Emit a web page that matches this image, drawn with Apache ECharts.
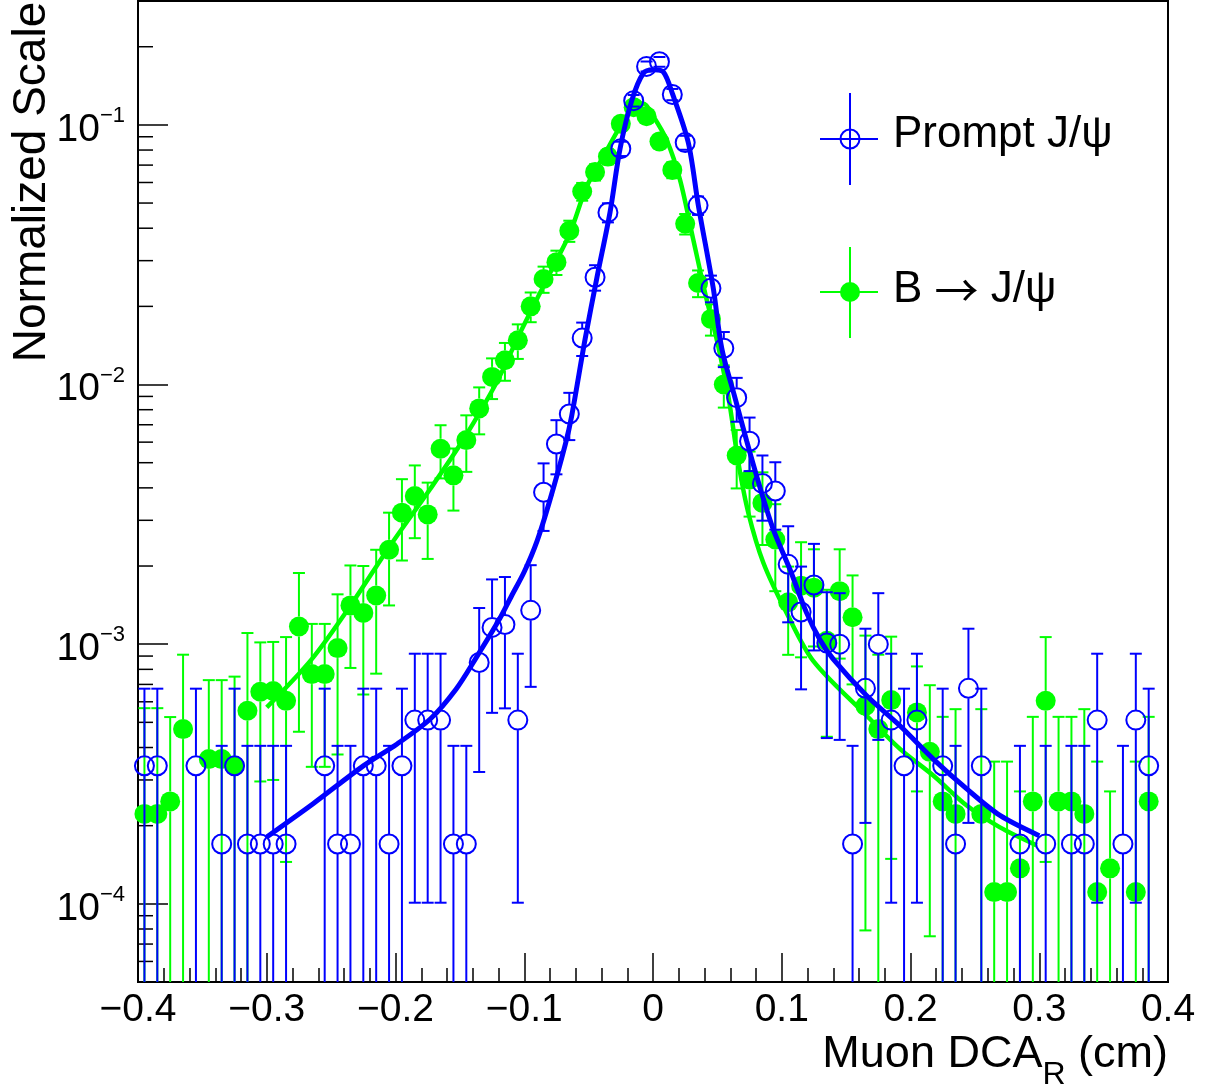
<!DOCTYPE html>
<html><head><meta charset="utf-8">
<script src="https://cdn.jsdelivr.net/npm/echarts@6/dist/echarts.min.js"></script>
<style>html,body{margin:0;padding:0;background:#fff}#c{width:1206px;height:1091px}</style>
</head><body><div id="c"></div>
<script>
// ---------------- data ----------------
const X_MIN = -0.4, X_MAX = 0.4;
const Y_MIN = 5e-5, Y_MAX = 0.3;

// Prompt J/psi histogram (bin centres, contents, errors)
const promptX = [-0.395,-0.385,-0.355,-0.335,-0.325,-0.315,-0.305,-0.295,-0.285,
  -0.255,-0.245,-0.235,-0.225,-0.215,-0.205,-0.195,-0.185,-0.175,-0.165,-0.155,-0.145,-0.135,-0.125,-0.115,-0.105,-0.095,
  -0.085,-0.075,-0.065,-0.055,-0.045,-0.035,-0.025,-0.015,-0.005,0.005,0.015,0.025,0.035,0.045,0.055,0.065,0.075,0.085,0.095,0.105,
  0.115,0.125,0.135,0.145,0.155,0.165,0.175,0.185,0.195,0.205,
  0.225,0.235,0.245,0.255,
  0.285,0.305,0.325,0.335,0.345,0.365,0.375,0.385];
const promptY = [3.4e-4,3.4e-4,3.4e-4,1.7e-4,3.4e-4,1.7e-4,1.7e-4,1.7e-4,1.7e-4,
  3.4e-4,1.7e-4,1.7e-4,3.4e-4,3.4e-4,1.7e-4,3.4e-4,5.1e-4,5.1e-4,5.1e-4,1.7e-4,1.7e-4,8.5e-4,1.16e-3,1.19e-3,5.1e-4,1.35e-3,
  3.85e-3,5.9e-3,7.7e-3,1.51e-2,2.59e-2,4.6e-2,8.1e-2,0.124,0.168,0.175,0.131,8.55e-2,4.9e-2,2.35e-2,1.38e-2,8.9e-3,6.05e-3,4.16e-3,3.89e-3,2.03e-3,
  1.33e-3,1.69e-3,1.01e-3,1.0e-3,1.7e-4,6.76e-4,1.0e-3,5.1e-4,3.4e-4,5.1e-4,
  3.4e-4,1.7e-4,6.76e-4,3.4e-4,
  1.7e-4,1.7e-4,1.7e-4,1.7e-4,5.1e-4,1.7e-4,5.1e-4,3.4e-4];
const promptErr = [3.34e-4,3.34e-4,3.34e-4,2.36e-4,3.34e-4,2.36e-4,2.36e-4,2.36e-4,2.36e-4,
  3.34e-4,2.36e-4,2.36e-4,3.34e-4,3.34e-4,2.36e-4,3.34e-4,4.09e-4,4.09e-4,4.09e-4,2.36e-4,2.36e-4,5.28e-4,6.16e-4,6.24e-4,4.09e-4,6.65e-4,
  1.12e-3,1.39e-3,1.59e-3,2.22e-3,2.91e-3,3.88e-3,5.15e-3,6.37e-3,7.42e-3,7.57e-3,6.55e-3,5.29e-3,4.0e-3,2.77e-3,2.13e-3,1.71e-3,1.41e-3,1.17e-3,1.13e-3,8.16e-4,
  6.6e-4,7.44e-4,5.75e-4,5.72e-4,2.36e-4,4.71e-4,5.72e-4,4.09e-4,3.34e-4,4.09e-4,
  3.34e-4,2.36e-4,4.71e-4,3.34e-4,
  2.36e-4,2.36e-4,2.36e-4,2.36e-4,4.09e-4,2.36e-4,4.09e-4,3.34e-4];

// B -> J/psi histogram
const bjpsiX = [-0.395,-0.385,-0.375,-0.365,-0.345,-0.335,-0.325,-0.315,-0.305,-0.295,-0.285,-0.275,-0.265,-0.255,-0.245,-0.235,-0.225,-0.215,-0.205,-0.195,-0.185,-0.175,-0.165,-0.155,-0.145,
  -0.135,-0.125,-0.115,-0.105,-0.095,-0.085,-0.075,-0.065,-0.055,-0.045,-0.035,-0.025,-0.015,-0.005,0.005,0.015,0.025,0.035,0.045,0.055,0.065,0.075,0.085,0.095,0.105,0.115,0.125,0.135,0.145,0.155,0.165,0.175,0.185,
  0.205,0.215,0.225,0.235,0.255,0.265,0.275,0.285,0.295,0.305,0.315,0.325,0.335,0.345,0.355,0.375,0.385];
const bjpsiY = [2.22e-4,2.22e-4,2.48e-4,4.71e-4,3.61e-4,3.61e-4,3.4e-4,5.54e-4,6.56e-4,6.6e-4,6.05e-4,1.17e-3,7.67e-4,7.67e-4,9.66e-4,1.41e-3,1.32e-3,1.54e-3,2.31e-3,3.21e-3,3.72e-3,3.16e-3,5.66e-3,4.47e-3,6.11e-3,
  8.09e-3,1.07e-2,1.24e-2,1.48e-2,2.0e-2,2.55e-2,2.96e-2,3.91e-2,5.54e-2,6.58e-2,7.55e-2,0.1009,0.117,0.108,8.63e-2,6.71e-2,4.16e-2,2.46e-2,1.79e-2,1.0e-2,5.33e-3,4.31e-3,3.5e-3,2.53e-3,1.45e-3,1.68e-3,1.65e-3,1.03e-3,1.60e-3,1.27e-3,5.79e-4,4.71e-4,6.09e-4,
  5.46e-4,3.85e-4,2.48e-4,2.22e-4,2.22e-4,1.11e-4,1.11e-4,1.37e-4,2.48e-4,6.05e-4,2.48e-4,2.48e-4,2.22e-4,1.11e-4,1.37e-4,1.11e-4,2.48e-4];
const bjpsiErr = [3.45e-4,3.45e-4,2.76e-4,4.4e-4,3.66e-4,3.66e-4,4.1e-4,5.5e-4,3.6e-4,3.6e-4,4.6e-4,7.1e-4,4.3e-4,4.3e-4,5.9e-4,6.0e-4,6.8e-4,7.7e-4,9.0e-4,1.11e-3,1.16e-3,1.03e-3,1.31e-3,1.2e-3,1.5e-3,
  1.66e-3,1.91e-3,2.06e-3,2.25e-3,2.62e-3,2.95e-3,3.18e-3,3.66e-3,4.35e-3,4.75e-3,5.08e-3,5.88e-3,6.33e-3,6.08e-3,5.43e-3,4.79e-3,3.77e-3,2.9e-3,2.47e-3,1.85e-3,1.35e-3,1.21e-3,1.09e-3,9.3e-4,5.4e-4,7.9e-4,6.7e-4,5.9e-4,7.2e-4,5.7e-4,5.0e-4,4.4e-4,4.6e-4,
  2.75e-4,3.1e-4,2.77e-4,3.4e-4,3.4e-4,2.42e-4,2.42e-4,1.34e-4,2.77e-4,4.6e-4,2.77e-4,2.77e-4,3.4e-4,2.42e-4,1.34e-4,2.42e-4,2.77e-4];

// fitted curves
const promptFitX = [-0.300,-0.264,-0.225,-0.199,-0.173,-0.153,-0.138,-0.120,-0.110,-0.100,-0.090,-0.080,-0.068,-0.0632,-0.0528,-0.0435,-0.0334,-0.0256,-0.0165,-0.0075,0.0002,0.008,0.0153,0.0274,0.0352,0.0468,0.0534,0.0637,0.0728,0.0835,0.0934,0.1064,0.1193,0.1297,0.140,0.166,0.1918,0.2177,0.2437,0.2695,0.300];
const promptFitY = [1.81e-4,2.43e-4,3.4e-4,4.12e-4,5.15e-4,6.71e-4,8.76e-4,1.23e-3,1.53e-3,1.9e-3,2.5e-3,3.6e-3,5.91e-3,7.55e-3,1.49e-2,2.59e-2,4.6e-2,8.09e-2,0.124,0.158,0.163,0.160,0.131,8.55e-2,4.9e-2,2.35e-2,1.38e-2,8.89e-3,6.05e-3,3.95e-3,2.77e-3,1.94e-3,1.32e-3,1.04e-3,8.76e-4,6.33e-4,4.85e-4,3.61e-4,2.77e-4,2.19e-4,1.83e-4];
const bjpsiFitX = [-0.300,-0.265,-0.2353,-0.2043,-0.1732,-0.1473,-0.1214,-0.1033,-0.0774,-0.0645,-0.0515,-0.0386,-0.0256,-0.0153,-0.0075,0.0002,0.0106,0.021,0.0313,0.0417,0.0495,0.0585,0.0663,0.074,0.0857,0.1038,0.1246,0.166,0.1918,0.2177,0.2437,0.2695,0.298];
const bjpsiFitY = [5.71e-4,8.76e-4,1.40e-3,2.39e-3,3.95e-3,6.14e-3,1.02e-2,1.58e-2,2.85e-2,3.83e-2,5.79e-2,7.55e-2,9.85e-2,0.117,0.121,0.108,8.75e-2,6.14e-2,3.61e-2,2.12e-2,1.49e-2,9.02e-3,5.0e-3,3.21e-3,2.06e-3,1.32e-3,8.6e-4,5.3e-4,3.95e-4,3.12e-4,2.39e-4,1.97e-4,1.68e-4];

// axis decorations
const yMinorTicks = [6e-5,7e-5,8e-5,9e-5,2e-4,3e-4,4e-4,5e-4,6e-4,7e-4,8e-4,9e-4,2e-3,3e-3,4e-3,5e-3,6e-3,7e-3,8e-3,9e-3,2e-2,3e-2,4e-2,5e-2,6e-2,7e-2,8e-2,9e-2,0.2,0.3];

// ---------------- styling ----------------
const FONT = '"Liberation Sans", Arial, Helvetica, sans-serif';
const BLUE = '#0000ff', GREEN = '#00ff00';

function zip3(a, b, c) { return a.map((v, i) => c ? [v, b[i], c[i]] : [v, b[i]]); }

function errorBarRenderer(color, radius) {
  return function (params, api) {
    const x = api.value(0), v = api.value(1), e = api.value(2);
    const cs = params.coordSys;
    const bottom = cs.y + cs.height;
    const c = api.coord([x, v]);
    const hi = api.coord([x, v + e]);
    const hasLow = (v - e) > Y_MIN;
    const lo = hasLow ? api.coord([x, v - e]) : [c[0], bottom];
    const st = { stroke: color, lineWidth: 2 };
    const ch = [];
    if (hi[1] < c[1] - radius) ch.push({ type: 'line', shape: { x1: c[0], y1: hi[1], x2: c[0], y2: c[1] - radius }, style: st });
    if (lo[1] > c[1] + radius) ch.push({ type: 'line', shape: { x1: c[0], y1: c[1] + radius, x2: c[0], y2: lo[1] }, style: st });
    ch.push({ type: 'line', shape: { x1: c[0] - 6, y1: hi[1], x2: c[0] + 6, y2: hi[1] }, style: st });
    if (hasLow) ch.push({ type: 'line', shape: { x1: c[0] - 6, y1: lo[1], x2: c[0] + 6, y2: lo[1] }, style: st });
    return { type: 'group', children: ch };
  };
}

const chart = echarts.init(document.getElementById('c'), null, { renderer: 'canvas' });

const option = {
  animation: false,
  backgroundColor: '#fff',
  grid: { left: 138, right: 38, top: 1, bottom: 109, show: true, borderColor: '#000', borderWidth: 2, backgroundColor: 'transparent', containLabel: false },
  xAxis: {
    type: 'value', min: X_MIN, max: X_MAX, interval: 0.1,
    axisLine: { show: true, onZero: false, lineStyle: { color: '#000', width: 2 } },
    axisTick: { show: true, inside: true, length: 29, lineStyle: { color: '#000', width: 1.5 } },
    minorTick: { show: true, splitNumber: 5, length: 14, lineStyle: { color: '#000', width: 1.5 } },
    splitLine: { show: false }, minorSplitLine: { show: false },
    axisLabel: {
      margin: 9, fontSize: 39, fontFamily: FONT, color: '#000',
      formatter: v => Math.abs(v) < 1e-9 ? '0' : (v < 0 ? '\u2212' : '') + Math.abs(v).toFixed(1)
    }
  },
  yAxis: {
    type: 'log', logBase: 10, min: Y_MIN, max: Y_MAX,
    axisLine: { show: true, onZero: false, lineStyle: { color: '#000', width: 2 } },
    axisTick: { show: true, inside: true, length: 30, lineStyle: { color: '#000', width: 1.5 } },
    splitLine: { show: false },
    axisLabel: {
      margin: 13, color: '#000', fontFamily: FONT, padding: [10, 0, 0, 0],
      formatter: function (v) {
        const l = Math.log10(v), r = Math.round(l);
        if (Math.abs(l - r) > 1e-6) return '';
        return '{b|10}{s|' + (r < 0 ? '\u2212' : '') + Math.abs(r) + '}';
      },
      rich: {
        b: { fontSize: 39, fontFamily: FONT, color: '#000', lineHeight: 39 },
        s: { fontSize: 22, fontFamily: FONT, color: '#000', lineHeight: 22, padding: [0, 0, 28, 0] }
      }
    }
  },
  series: [
    { // y minor ticks
      type: 'custom', silent: true, z: 5,
      data: yMinorTicks.map(v => [X_MIN, v]),
      encode: { x: 0, y: 1 },
      renderItem: function (params, api) {
        const p = api.coord([api.value(0), api.value(1)]);
        return { type: 'line', shape: { x1: p[0], y1: p[1], x2: p[0] + 15, y2: p[1] }, style: { stroke: '#000', lineWidth: 1.5 } };
      }
    },
    { // B->J/psi error bars
      type: 'custom', silent: true, z: 2,
      data: zip3(bjpsiX, bjpsiY, bjpsiErr), encode: { x: 0, y: 1 },
      renderItem: errorBarRenderer(GREEN, 10)
    },
    {
      name: 'B \u2192 J/\u03c8', type: 'scatter', z: 3, silent: true,
      data: zip3(bjpsiX, bjpsiY), symbol: 'circle', symbolSize: 20,
      itemStyle: { color: GREEN, opacity: 1 }
    },
    {
      type: 'line', z: 4, silent: true, smooth: 0.3, showSymbol: false,
      data: zip3(bjpsiFitX, bjpsiFitY),
      lineStyle: { color: GREEN, width: 4.5 }
    },
    { // prompt error bars
      type: 'custom', silent: true, z: 6,
      data: zip3(promptX, promptY, promptErr), encode: { x: 0, y: 1 },
      renderItem: errorBarRenderer(BLUE, 10)
    },
    {
      name: 'Prompt J/\u03c8', type: 'scatter', z: 7, silent: true,
      data: zip3(promptX, promptY), symbol: 'circle', symbolSize: 19,
      itemStyle: { color: 'rgba(255,255,255,0)', borderColor: BLUE, borderWidth: 2, opacity: 1 }
    },
    {
      type: 'line', z: 8, silent: true, smooth: 0.3, showSymbol: false,
      data: zip3(promptFitX, promptFitY),
      lineStyle: { color: BLUE, width: 5 }
    }
  ],
  graphic: [
    // legend
    { type: 'line', shape: { x1: 820, y1: 139, x2: 878, y2: 139 }, style: { stroke: BLUE, lineWidth: 2 } },
    { type: 'line', shape: { x1: 850, y1: 93, x2: 850, y2: 185 }, style: { stroke: BLUE, lineWidth: 2 } },
    { type: 'circle', shape: { cx: 850, cy: 139, r: 9.5 }, style: { fill: 'rgba(0,0,0,0)', stroke: BLUE, lineWidth: 2 } },
    { type: 'text', x: 893, y: 135, style: { text: 'Prompt J/\u03c8', fontSize: 44, fontFamily: FONT, fill: '#000', align: 'left', verticalAlign: 'middle' } },
    { type: 'line', shape: { x1: 820, y1: 292, x2: 878, y2: 292 }, style: { stroke: GREEN, lineWidth: 2 } },
    { type: 'line', shape: { x1: 850, y1: 247, x2: 850, y2: 338 }, style: { stroke: GREEN, lineWidth: 2 } },
    { type: 'circle', shape: { cx: 850, cy: 292, r: 10 }, style: { fill: GREEN } },
    { type: 'text', x: 893, y: 290, style: {
        text: '{t|B }{ar|\u2192}{t| J/\u03c8}', fill: '#000', align: 'left', verticalAlign: 'middle',
        rich: {
          t: { fontSize: 44, fontFamily: FONT, fill: '#000', lineHeight: 50 },
          ar: { fontSize: 44, fontFamily: '"Noto Sans CJK JP", "Noto Sans CJK SC", sans-serif', fill: '#000', lineHeight: 50 }
        } } },
    // axis titles
    { type: 'text', x: 32, y: 182, rotation: Math.PI / 2,
      style: { text: 'Normalized Scale', fontSize: 46, fontFamily: FONT, fill: '#000', align: 'center', verticalAlign: 'middle' } },
    { type: 'text', x: 1168, y: 1055,
      style: { text: '{a|Muon DCA}{r|R}{a| (cm)}', fill: '#000', align: 'right', verticalAlign: 'middle',
        rich: {
          a: { fontSize: 45, fontFamily: FONT, fill: '#000', lineHeight: 45 },
          r: { fontSize: 32, fontFamily: FONT, fill: '#000', lineHeight: 32, padding: [40, 0, 0, 0] }
        } } }
  ]
};
chart.setOption(option);
</script></body></html>
